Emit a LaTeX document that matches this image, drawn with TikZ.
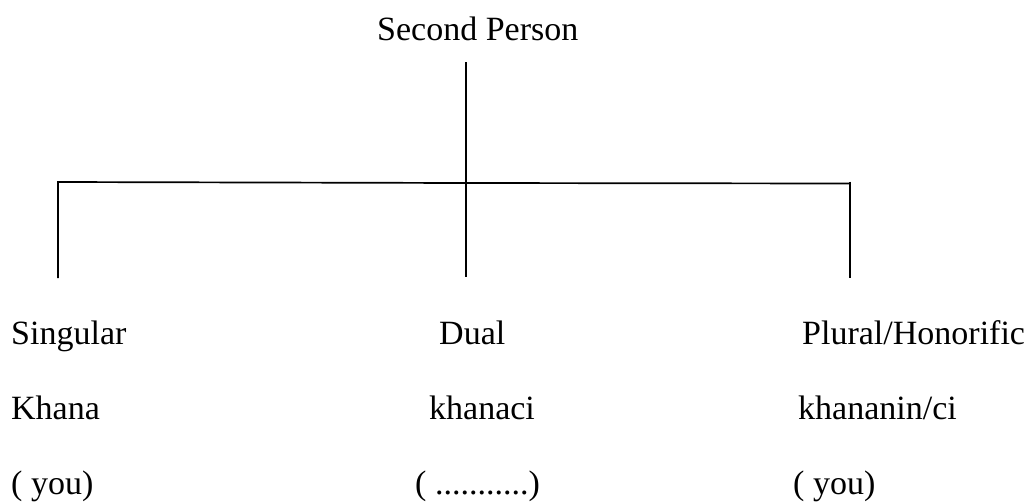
\documentclass[tikz,border=0pt]{standalone}
\usepackage{fontspec}
\setmainfont{Liberation Serif}
\begin{document}
\begin{tikzpicture}[x=1pt,y=-1pt,
  label/.style={anchor=base west,inner sep=0pt,font=\fontsize{34}{40}\selectfont},
  branch/.style={line width=1.7pt,black}]
\useasboundingbox (0,0) rectangle (1031,501);
% heading
\node[label] (head) at (377,40) {Second Person};
% tree junction points
\coordinate (top) at (466,62);
\coordinate (hub) at (466,183);
\coordinate (lc) at (58,182);
\coordinate (rc) at (850,183.5);
\coordinate (lend) at (58,278);
\coordinate (mend) at (466,277);
\coordinate (rend) at (850,278);
\coordinate (rtop) at (850,181.5);
\draw[branch] (top) -- (mend);
\draw[branch] (lend) -- (lc) -- (hub) -- (rc);
\draw[branch] (rtop) -- (rend);
% column labels
\node[label] (sg) at (11,344) {Singular};
\node[label] (du) at (439,344) {Dual};
\node[label] (pl) at (802,344) {Plural/Honorific};
\node[label] (sgw) at (11,419) {Khana};
\node[label] (duw) at (429,419) {khanaci};
\node[label] (plw) at (798,419) {khananin/ci};
\node[label] (sgg) at (11,494) {( you)};
\node[label] (dug) at (415,494) {( ...........)};
\node[label] (plg) at (793,494) {( you)};
\end{tikzpicture}
\end{document}
